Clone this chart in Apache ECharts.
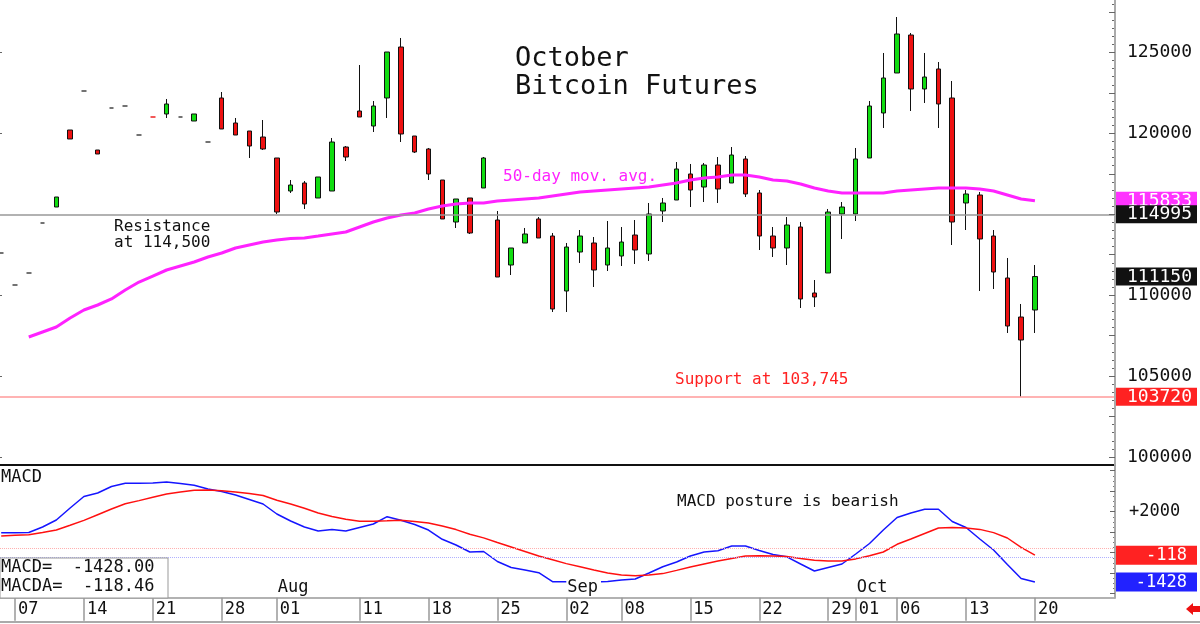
<!DOCTYPE html>
<html><head><meta charset="utf-8">
<script src="https://cdn.jsdelivr.net/npm/echarts@6/dist/echarts.min.js"></script>
<style>html,body{margin:0;padding:0;background:#fff}#c{width:1200px;height:624px}</style>
</head><body><div id="c"></div>
<script>
// ---- data (trading days, 2025) ----
const dates = [
 '07-03','07-07','07-08','07-09','07-10','07-11',
 '07-14','07-15','07-16','07-17','07-18',
 '07-21','07-22','07-23','07-24','07-25',
 '07-28','07-29','07-30','07-31','08-01',
 '08-04','08-05','08-06','08-07','08-08',
 '08-11','08-12','08-13','08-14','08-15',
 '08-18','08-19','08-20','08-21','08-22',
 '08-25','08-26','08-27','08-28','08-29',
 '09-02','09-03','09-04','09-05',
 '09-08','09-09','09-10','09-11','09-12',
 '09-15','09-16','09-17','09-18','09-19',
 '09-22','09-23','09-24','09-25','09-26',
 '09-29','09-30','10-01','10-02','10-03',
 '10-06','10-07','10-08','10-09','10-10',
 '10-13','10-14','10-15','10-16','10-17',
 '10-20'
];
// [open, high, low, close]
const candles = [
 [112604,112604,112604,112604],[110626,110626,110626,110626],[111368,111368,111368,111368],
 [114458,114458,114458,114458],[115446,116064,115446,116064],[120205,120205,119649,119649],
 [122615,122615,122615,122615],[118969,118969,118722,118722],[121565,121565,121565,121565],
 [121688,121688,121688,121688],[119896,119896,119896,119896],
 [121008,121008,121008,121008],[121194,122121,120947,121812],[121008,121008,121008,121008],
 [120761,121194,120761,121194],[119463,119463,119463,119463],
 [122183,122553,120267,120267],[120638,120947,119896,119896],[120143,120143,118475,119216],
 [119772,120823,118969,119031],[118475,118475,115014,115137],
 [116435,117115,116312,116806],[116930,117053,115323,115632],[116003,117300,116003,117300],
 [116435,119711,116435,119463],[119154,119216,118289,118536],
 [121379,124222,121008,121008],[120452,121997,120081,121688],[122183,125025,120947,125025],
 [125334,125891,119463,119958],[119834,119834,118784,118845],
 [119031,119093,117115,117486],[117115,117115,114705,114705],[114519,115941,114149,115941],
 [116003,116003,113778,113840],[116621,118536,116621,118475],
 [114643,115199,111120,111120],[111862,112913,111244,112913],[113222,114149,113222,113778],
 [114705,114828,113531,113531],[113654,113840,108957,109143],
 [110255,113222,108957,112974],[112665,114025,111986,113654],[113222,113592,110502,111553],
 [111862,114581,111491,112913],
 [112418,114210,111800,113283],[113716,114643,111924,112789],[112542,115694,112109,115014],
 [115199,116003,114519,115694],[115879,118227,115879,117795],
 [117486,118104,115446,116497],[116682,118166,115755,118042],[118042,118536,115694,116559],
 [116930,119154,116930,118660],[118413,118598,116064,116250],
 [116312,116497,112789,113654],[113654,114210,112356,112913],[112913,114828,111862,114334],
 [114210,114519,109205,109761],[110132,110935,109266,109884],
 [111368,115323,111368,115137],[115014,115755,113469,115446],[115014,119093,114581,118413],
 [118475,121997,118475,121688],[121256,124964,120329,123419],
 [123728,127188,123728,126138],[126076,126200,121379,122739],[122739,124964,121874,123480],
 [123975,124407,120329,121812],[122183,123233,113098,114519],
 [115694,116497,114025,116250],[116188,116373,110255,113469],[113654,114025,110379,111429],
 [111059,112295,107660,108092],[108648,109452,103720,107227],
 [109081,111862,107660,111150]
];
const ma50 = [null,null,
 107412,107721,108030,108587,109081,109390,109761,110317,110811,111182,
 111553,111800,112047,112356,112604,112913,113098,113283,113407,113500,
 113531,113654,113778,113901,114210,114519,114767,114952,115076,115323,
 115508,115632,115694,115694,115817,115879,115941,116003,116126,116250,
 116373,116435,116497,116559,116621,116682,116806,116930,117115,117239,
 117300,117424,117424,117300,117115,117053,116868,116621,116435,116312,
 116312,116312,116312,116435,116497,116559,116621,116621,116621,116559,
 116435,116188,115941,115833];
const macdLine = [
 976,976,985,1254,1595,2180,2741,2912,3229,3385,
 3385,3400,3449,3376,3288,3107,2985,2815,2595,2376,
 1888,1546,1254,1059,1132,1059,1229,1400,1756,1580,
 1376,1107,654,376,34,59,-429,-722,-844,-976,
 -1415,-1415,-1429,-1429,-1405,-1332,-1283,-990,-683,-454,
 -161,34,98,327,327,107,-88,-200,-551,-893,
 -722,-551,-63,449,1107,1717,1937,2117,2117,1522,
 1229,668,132,-576,-1259,-1428.00];
const macdAvg = [
 815,849,873,985,1107,1341,1576,1854,2132,2385,
 2541,2707,2863,2956,3044,3059,3020,2956,2893,2790,
 2561,2376,2166,1937,1766,1629,1532,1532,1556,1585,
 1527,1449,1302,1127,902,722,498,278,59,-161,
 -346,-532,-688,-844,-985,-1093,-1122,-1093,-1020,-863,
 -698,-551,-405,-278,-161,-151,-161,-190,-283,-366,
 -405,-410,-302,-151,34,410,668,937,1205,1229,
 1205,1137,980,717,263,-118.46];
const priceLabels = [100000,105000,110000,120000,125000];
const macdLabels = [2000];
const dayTicks = ['07-07','07-14','07-21','07-28','08-01','08-11','08-18','08-25',
                  '09-02','09-08','09-15','09-22','09-29','10-01','10-06','10-13','10-20'];
const monthTicks = ['08-01','09-02','10-01'];
const monthNames = ['Aug','Sep','Oct'];
const resistanceLevel = 114995;
const supportLevel = 103720;
const macdGuides = [200, -200];

// ---- build ----
const FONT = '"DejaVu Sans Mono", monospace';
const idx = d => dates.indexOf(d);
const xMin = -0.087, xMax = 80.81;
const last = a => a[a.length - 1];
const lastClose = last(candles)[3];
const maLast = last(ma50);
const macdLast = last(macdLine), avgLast = last(macdAvg);

const candleData = candles.map((c, i) => {
  const item = { value: [i, c[0], c[3], c[2], c[1]] };
  if (c[0] === c[1] && c[1] === c[2] && c[2] === c[3]) {
    const col = dates[i] === '07-21' ? '#ee2222' : '#444';
    item.itemStyle = { borderColor: col, borderColor0: col, borderWidth: 1.5 };
  }
  return item;
});
const maData = ma50.map((v, i) => [i, v]).filter(p => p[1] != null);
const macdData = macdLine.map((v, i) => [i, v]);
const avgData = macdAvg.map((v, i) => [i, v]);

const range = (a, b, s) => { const r = []; for (let v = a; v <= b + 1e-9; v += s) r.push(v); return r; };
const badgeKind = {};
badgeKind[maLast] = 'mag'; badgeKind[resistanceLevel] = 'blk';
badgeKind[lastClose] = 'blk'; badgeKind[supportLevel] = 'red';

const badgeBase = { fontFamily: FONT, fontSize: 18, color: '#fff', width: 70, height: 17, lineHeight: 17, padding: [1, 0, 0, 11] };
const macdBadge = { fontFamily: FONT, fontSize: 17, color: '#fff', width: 71, height: 18, lineHeight: 18, padding: [1, 10, 0, 0], align: 'right' };

const textEl = (x, y, text, size, fill) => ({
  type: 'text', x: x, y: y, z: 100,
  style: { text: text, font: size + 'px ' + FONT, fill: fill || '#111',
           textVerticalAlign: 'middle', verticalAlign: 'middle', textAlign: 'left', align: 'left' }
});
const noLine = { show: false, onZero: false };

const chart = echarts.init(document.getElementById('c'), null, { renderer: 'canvas' });
chart.setOption({
  animation: false,
  backgroundColor: '#fff',
  grid: [
    { left: 0, right: 82, top: 0, height: 465 },
    { left: 0, right: 82, top: 466, height: 131.7 }
  ],
  xAxis: [
    { type: 'value', gridIndex: 0, min: xMin, max: xMax, position: 'bottom',
      axisLine: { show: true, onZero: false, lineStyle: { color: '#111', width: 2 } },
      axisTick: { show: false }, axisLabel: { show: false }, splitLine: { show: false } },
    { type: 'value', gridIndex: 1, min: xMin, max: xMax, position: 'bottom',
      axisLine: { show: true, onZero: false, lineStyle: { color: '#999', width: 1.5 } },
      axisTick: { show: true, length: 23, customValues: dayTicks.map(idx), lineStyle: { color: '#999', width: 1.5 } },
      axisLabel: { show: true, customValues: dayTicks.map(idx), margin: 3, align: 'left', padding: [0, 0, 0, 3],
        fontFamily: FONT, fontSize: 17, color: '#111',
        formatter: v => dates[Math.round(v)].slice(3) },
      splitLine: { show: false } },
    { type: 'value', gridIndex: 1, min: xMin, max: xMax, position: 'bottom', z: 20,
      axisLine: noLine, axisTick: { show: false },
      axisLabel: { show: true, inside: true, customValues: monthTicks.map(idx), margin: 2, align: 'left',
        padding: [0, 3, 0, 1], backgroundColor: '#fff', fontFamily: FONT, fontSize: 17, color: '#111',
        formatter: v => monthNames[monthTicks.indexOf(dates[Math.round(v)])] },
      splitLine: { show: false } }
  ],
  yAxis: [
    { type: 'value', gridIndex: 0, min: 99502, max: 128239, position: 'right', z: 20,
      axisLine: { show: true, onZero: false, lineStyle: { color: '#aaa', width: 2 } },
      axisTick: { show: true, inside: true, length: 6, customValues: range(100000, 127500, 2500), lineStyle: { color: '#666' } },
      axisLabel: { show: true, margin: 1,
        customValues: priceLabels.concat([maLast, resistanceLevel, lastClose, supportLevel]),
        formatter: v => badgeKind[v] ? '{' + badgeKind[v] + '|' + v + '}' : '{n|' + v + '}',
        rich: {
          n: { fontFamily: FONT, fontSize: 18, color: '#111', padding: [0, 0, 0, 11] },
          mag: Object.assign({}, badgeBase, { backgroundColor: '#ff33ff' }),
          blk: Object.assign({}, badgeBase, { backgroundColor: '#111' }),
          red: Object.assign({}, badgeBase, { backgroundColor: '#ff2222' })
        } },
      splitLine: { show: false } },
    { type: 'value', gridIndex: 0, min: 99502, max: 128239, position: 'right',
      axisLine: noLine, axisLabel: { show: false },
      axisTick: { show: true, inside: true, length: 3, customValues: range(99500, 128000, 500), lineStyle: { color: '#666' } },
      splitLine: { show: false } },
    { type: 'value', gridIndex: 1, min: -2195, max: 4229, position: 'right', z: 20,
      axisLine: { show: true, onZero: false, lineStyle: { color: '#aaa', width: 2 } },
      axisTick: { show: true, inside: true, length: 5, customValues: range(-2000, 4000, 1000), lineStyle: { color: '#666' } },
      axisLabel: { show: true, margin: 1,
        customValues: macdLabels.concat([avgLast, macdLast]),
        formatter: v => v === avgLast ? '{r|' + Math.round(v) + '}' : v === macdLast ? '{b|' + Math.round(v) + '}' : '{n|+' + v + '}',
        rich: {
          n: { fontFamily: FONT, fontSize: 17, color: '#111', padding: [0, 0, 0, 13] },
          r: Object.assign({}, macdBadge, { backgroundColor: '#ff2222' }),
          b: Object.assign({}, macdBadge, { backgroundColor: '#2222ff' })
        } },
      splitLine: { show: false } },
    { type: 'value', gridIndex: 1, min: -2195, max: 4229, position: 'right',
      axisLine: noLine, axisLabel: { show: false },
      axisTick: { show: true, inside: true, length: 2, customValues: range(-2000, 4000, 250), lineStyle: { color: '#777' } },
      splitLine: { show: false } },
    { type: 'value', gridIndex: 0, min: 99502, max: 128239, position: 'left',
      axisLine: noLine, axisLabel: { show: false },
      axisTick: { show: true, inside: true, length: 2, customValues: priceLabels, lineStyle: { color: '#666' } },
      splitLine: { show: false } }
  ],
  series: [
    { type: 'candlestick', xAxisIndex: 0, yAxisIndex: 0, barWidth: 5,
      encode: { x: 0, y: [1, 2, 3, 4] },
      data: candleData,
      itemStyle: { color: '#11dd11', color0: '#ee1111', borderColor: '#111', borderColor0: '#111', borderWidth: 1 },
      markLine: { symbol: 'none', silent: true, label: { show: false },
        data: [
          { yAxis: resistanceLevel, lineStyle: { color: '#999', width: 1.5, type: 'solid' } },
          { yAxis: supportLevel, lineStyle: { color: '#ff9a9a', width: 1.5, type: 'solid' } }
        ] },
      z: 3 },
    { type: 'line', xAxisIndex: 0, yAxisIndex: 0, data: maData, showSymbol: false, symbol: 'none',
      lineStyle: { color: '#ff22ff', width: 3 }, z: 4 },
    { type: 'line', xAxisIndex: 1, yAxisIndex: 2, data: macdData, symbol: 'none',
      lineStyle: { color: '#1515ff', width: 1.5 }, z: 4,
      markLine: { symbol: 'none', silent: true, label: { show: false },
        data: [
          { yAxis: macdGuides[0], lineStyle: { color: '#ffb0b0', width: 1, type: 'dotted' } },
          { yAxis: macdGuides[1], lineStyle: { color: '#b0b0ff', width: 1, type: 'dotted' } }
        ] } },
    { type: 'line', xAxisIndex: 1, yAxisIndex: 2, data: avgData, symbol: 'none',
      lineStyle: { color: '#ff1010', width: 1.5 }, z: 4 }
  ],
  graphic: [
    textEl(515, 59, 'October', 27),
    textEl(515, 87, 'Bitcoin Futures', 27),
    textEl(114, 227, 'Resistance', 16),
    textEl(114, 243, 'at 114,500', 16),
    textEl(503, 177, '50-day mov. avg.', 16, '#ff22ff'),
    textEl(675, 380, 'Support at 103,745', 16, '#ff2222'),
    textEl(677, 502, 'MACD posture is bearish', 16),
    textEl(1, 478, 'MACD', 17),
    { type: 'rect', z: 90, shape: { x: 0, y: 558, width: 168, height: 40 },
      style: { fill: '#fff', stroke: '#999', lineWidth: 1 } },
    textEl(1, 568, 'MACD=  ' + macdLast.toFixed(2), 17),
    textEl(1, 587, 'MACDA=  ' + avgLast.toFixed(2), 17),
    { type: 'line', z: 90, shape: { x1: 0, y1: 622, x2: 1200, y2: 622 },
      style: { stroke: '#aaa', lineWidth: 2 } },
    { type: 'polygon', z: 90,
      shape: { points: [[1186, 609], [1193, 603], [1193, 606], [1200, 606], [1200, 612], [1193, 612], [1193, 615]] },
      style: { fill: '#ee1111' } }
  ]
});
</script></body></html>
